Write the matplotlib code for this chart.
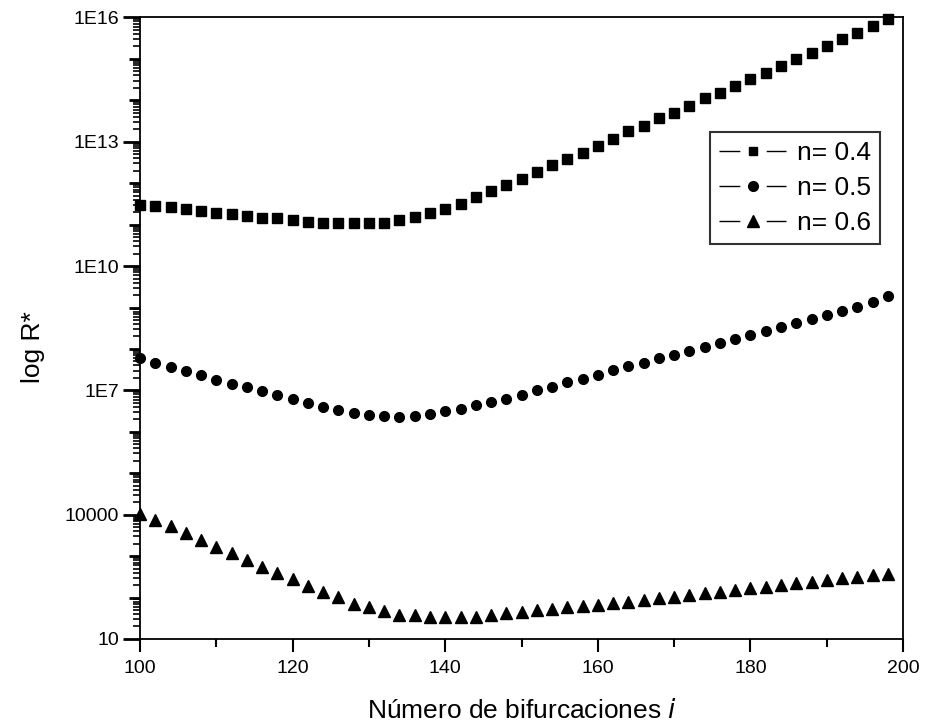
import numpy as np
import matplotlib
matplotlib.use('Agg')
import matplotlib.pyplot as plt
from matplotlib.lines import Line2D
from matplotlib.ticker import FixedLocator, FuncFormatter, NullFormatter

plt.rcParams['font.family'] = ['Liberation Sans', 'DejaVu Sans']

# numero de bifurcaciones
bif = [100, 102, 104, 106, 108, 110, 112, 114, 116, 118,
       120, 122, 124, 126, 128, 130, 132, 134, 136, 138,
       140, 142, 144, 146, 148, 150, 152, 154, 156, 158,
       160, 162, 164, 166, 168, 170, 172, 174, 176, 178,
       180, 182, 184, 186, 188, 190, 192, 194, 196, 198]

# log10(R*)
log_r_04 = [11.47, 11.45, 11.42, 11.37, 11.33, 11.29, 11.25, 11.21, 11.17, 11.15,
            11.11, 11.07, 11.05, 11.03, 11.03, 11.04, 11.04, 11.11, 11.19, 11.28,
            11.38, 11.51, 11.67, 11.82, 11.95, 12.10, 12.27, 12.44, 12.58, 12.73,
            12.90, 13.07, 13.26, 13.38, 13.57, 13.70, 13.87, 14.05, 14.18, 14.35,
            14.52, 14.67, 14.84, 15.00, 15.15, 15.32, 15.49, 15.63, 15.80, 15.96]
log_r_05 = [7.79, 7.66, 7.57, 7.47, 7.36, 7.26, 7.16, 7.07, 6.98, 6.88,
            6.78, 6.70, 6.60, 6.52, 6.45, 6.40, 6.37, 6.36, 6.37, 6.42,
            6.50, 6.56, 6.64, 6.73, 6.80, 6.90, 7.00, 7.08, 7.19, 7.28,
            7.38, 7.49, 7.59, 7.67, 7.77, 7.86, 7.96, 8.05, 8.15, 8.24,
            8.34, 8.43, 8.53, 8.63, 8.72, 8.82, 8.92, 9.02, 9.13, 9.27]
log_r_06 = [4.02, 3.86, 3.72, 3.56, 3.38, 3.22, 3.07, 2.91, 2.73, 2.59,
            2.45, 2.29, 2.13, 2.01, 1.85, 1.77, 1.67, 1.58, 1.58, 1.53,
            1.53, 1.53, 1.54, 1.58, 1.62, 1.65, 1.69, 1.72, 1.76, 1.79,
            1.83, 1.87, 1.90, 1.94, 1.98, 2.02, 2.06, 2.10, 2.14, 2.18,
            2.22, 2.26, 2.30, 2.34, 2.38, 2.42, 2.46, 2.50, 2.54, 2.58]

labels = ['n= 0.4', 'n= 0.5', 'n= 0.6']
markers = ['s', 'o', '^']
sizes = [6.5, 7, 8]
y_labels = {1: '10', 4: '10000', 7: '1E7', 10: '1E10', 13: '1E13', 16: '1E16'}

fig = plt.figure(figsize=(9.25, 7.28), dpi=100)
ax = fig.add_axes([0.1514, 0.1223, 0.8249, 0.8537])

for vals, m, ms in zip([log_r_04, log_r_05, log_r_06], markers, sizes):
    ax.plot(bif, 10 ** np.array(vals), linestyle='none', marker=m, ms=ms,
            color='black', mec='black', clip_on=False, zorder=3)

ax.set_yscale('log')
ax.set_xlim(100, 200)
ax.set_ylim(10, 1e16)

# ticks eje x
ax.set_xticks(range(100, 201, 20))
ax.set_xticks(range(110, 200, 20), minor=True)
ax.tick_params(axis='x', which='major', direction='out', length=9, width=1.5,
               labelsize=14, pad=6)
ax.tick_params(axis='x', which='minor', direction='out', length=6, width=1.5)

# ticks eje y: decadas etiquetadas cada 3
major_y = [10.0 ** k for k in y_labels]
minor_y = []
for k in range(1, 16):
    for s in range(2, 10):
        minor_y.append(s * 10.0 ** k)
ax.yaxis.set_major_locator(FixedLocator(major_y))
ax.yaxis.set_minor_locator(FixedLocator(minor_y))
ax.yaxis.set_major_formatter(FuncFormatter(lambda v, p: y_labels.get(int(round(np.log10(v))), '')))
ax.yaxis.set_minor_formatter(NullFormatter())
ax.tick_params(axis='y', which='major', direction='out', length=12, width=2,
               labelsize=14, pad=3)
ax.tick_params(axis='y', which='minor', direction='out', length=5, width=1.2)

# decadas sin etiqueta, un poco mas largas
sec = ax.secondary_yaxis('left')
sec.set_yscale('log')
sec.yaxis.set_major_locator(FixedLocator([10.0 ** k for k in range(1, 17) if k not in y_labels]))
sec.yaxis.set_minor_locator(FixedLocator([]))
sec.yaxis.set_major_formatter(NullFormatter())
sec.tick_params(axis='y', which='major', direction='out', length=8, width=2)
sec.spines['left'].set_visible(False)

for sp in ax.spines.values():
    sp.set_linewidth(1.3)
    sp.set_color('black')

ax.set_xlabel('Número de bifurcaciones $\\it{i}$', fontsize=19, labelpad=16)
ax.set_ylabel('log R*', fontsize=19)
ax.yaxis.set_label_coords(-0.125, 0.47)

handles = []
for m, ms in zip(markers, [6, 7, 8]):
    handles.append(Line2D([], [], color='black', lw=1.0, marker=m, ms=ms,
                          linestyle=(0, (15, 19, 15))))
leg = ax.legend(handles, labels, loc='upper right', bbox_to_anchor=(0.97, 0.816),
                borderaxespad=0, fontsize=19, frameon=True, fancybox=False,
                handlelength=2.55, handletextpad=0.4, labelspacing=0.42,
                borderpad=0.35, numpoints=1)
leg.get_frame().set_edgecolor('black')
leg.get_frame().set_linewidth(1.5)

fig.savefig('out.png', dpi=100)
